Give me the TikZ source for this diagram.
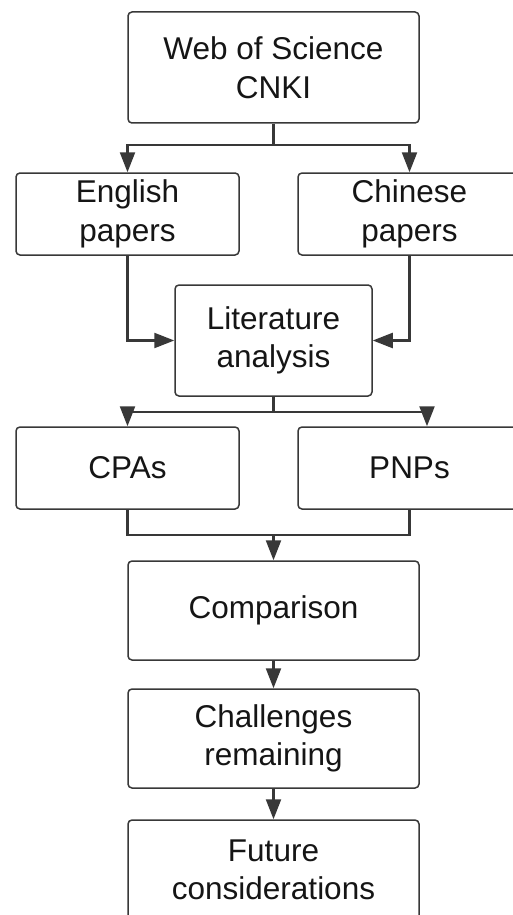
\documentclass[tikz,border=0pt]{standalone}
\usepackage{fontspec}
\setmainfont{Liberation Sans}
\usetikzlibrary{arrows.meta}
\definecolor{edge}{HTML}{383838}
\definecolor{txt}{HTML}{151515}
\tikzset{
  box/.style={draw=edge, line width=1.5pt, rounded corners=4pt, inner sep=0pt,
    align=center, text=txt, font=\fontsize{31.5}{38.6}\selectfont},
  conn/.style={draw=edge, line width=2.3pt, -{Triangle[length=20pt,width=15pt]}},
  plain/.style={draw=edge, line width=2.3pt}
}
\begin{document}
\begin{tikzpicture}[x=1pt,y=-1pt]
\useasboundingbox[fill=white] (0,0) rectangle (512,915);
\node[box, minimum width=291pt, minimum height=111pt] (top) at (273.5,67.5) {Web of Science\\CNKI};
\node[box, minimum width=223pt, minimum height=82pt] (eng) at (127.5,214) {English\\papers};
\node[box, minimum width=223pt, minimum height=82pt] (chi) at (409.5,214) {Chinese\\papers};
\node[box, minimum width=197pt, minimum height=111pt] (lit) at (273.5,340.5) {Literature\\analysis};
\node[box, minimum width=223pt, minimum height=82pt] (cpa) at (127.5,468) {CPAs};
\node[box, minimum width=223pt, minimum height=82pt] (pnp) at (409.5,468) {PNPs};
\node[box, minimum width=291pt, minimum height=99pt] (cmp) at (273.5,610.5) {Comparison};
\node[box, minimum width=291pt, minimum height=99pt] (chl) at (273.5,738.5) {Challenges\\remaining};
\node[box, minimum width=291pt, minimum height=100pt] (fut) at (273.5,870) {Future\\considerations};
\coordinate (j1) at (273.5,145);
\coordinate (j2) at (273.5,412);
\coordinate (j3) at (273.5,535);
\coordinate (p2) at (427,412);
\draw[plain] (top.south) -- (j1);
\draw[conn] (j1) -| (eng.north);
\draw[conn] (j1) -| (chi.north);
\draw[conn] (eng.south) |- (lit.west);
\draw[conn] (chi.south) |- (lit.east);
\draw[plain] (lit.south) -- (j2);
\draw[conn] (j2) -| (cpa.north);
\draw[conn] (j2) -- (p2) -- (p2 |- pnp.north);
\draw[plain] (cpa.south) |- (j3) -| (pnp.south);
\draw[conn] (j3) -- (cmp.north);
\draw[conn] (cmp.south) -- (chl.north);
\draw[conn] (chl.south) -- (fut.north);
\end{tikzpicture}
\end{document}
